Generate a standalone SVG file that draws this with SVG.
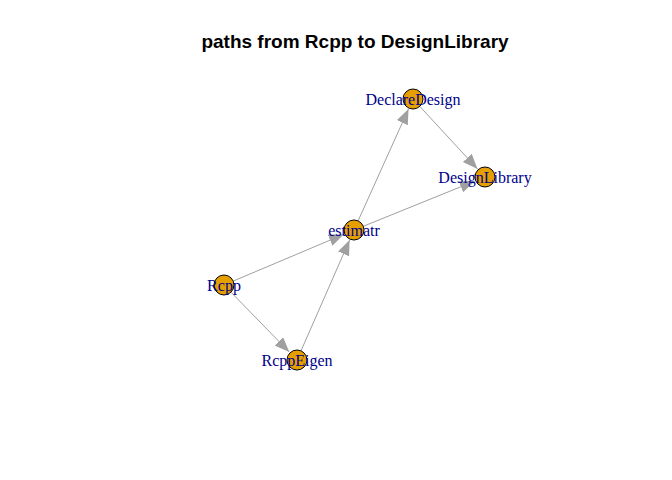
<svg xmlns="http://www.w3.org/2000/svg" width="672" height="480" viewBox="0 0 672 480">
<defs>
<marker id="ah" markerUnits="userSpaceOnUse" markerWidth="16" markerHeight="14" refX="15" refY="6" orient="auto">
<path d="M0,0 L15,6 L0,12 Z" fill="#A0A0A0"/>
</marker>
<style>
.e{stroke:#A0A0A0;stroke-width:1;fill:none;marker-end:url(#ah)}
.n{fill:#E69F00;stroke:#000;stroke-width:1}
.l{font-family:"Liberation Serif",serif;font-size:16px;fill:#00008B;text-anchor:middle}
.t{font-family:"Liberation Sans",Arial,sans-serif;font-size:19px;font-weight:bold;fill:#000;text-anchor:middle}
</style>
</defs>
<rect width="672" height="480" fill="#fff"/>
<text class="t" x="355" y="48">paths from Rcpp to DesignLibrary</text>
<g id="edges">
<line class="e" x1="233.2" y1="281.1" x2="343.9" y2="234.3"/>
<line class="e" x1="231" y1="292.2" x2="289.3" y2="352.1"/>
<line class="e" x1="301" y1="350.8" x2="349.6" y2="240.1"/>
<line class="e" x1="358.1" y1="220.9" x2="408.5" y2="109"/>
<line class="e" x1="363.3" y1="226.3" x2="474.8" y2="181.1"/>
<line class="e" x1="419.8" y1="106.4" x2="477.5" y2="168.9"/>
</g>
<g id="DeclareDesign"><circle class="n" cx="413" cy="99" r="10"/><text class="l" x="413" y="104.5">DeclareDesign</text></g>
<g id="DesignLibrary"><circle class="n" cx="485" cy="177" r="10"/><text class="l" x="485" y="182.5">DesignLibrary</text></g>
<g id="estimatr"><circle class="n" cx="354" cy="230" r="10"/><text class="l" x="354" y="235.5">estimatr</text></g>
<g id="Rcpp"><circle class="n" cx="224" cy="285" r="10"/><text class="l" x="224" y="290.5">Rcpp</text></g>
<g id="RcppEigen"><circle class="n" cx="297" cy="360" r="10"/><text class="l" x="297" y="365.5">RcppEigen</text></g>
</svg>
